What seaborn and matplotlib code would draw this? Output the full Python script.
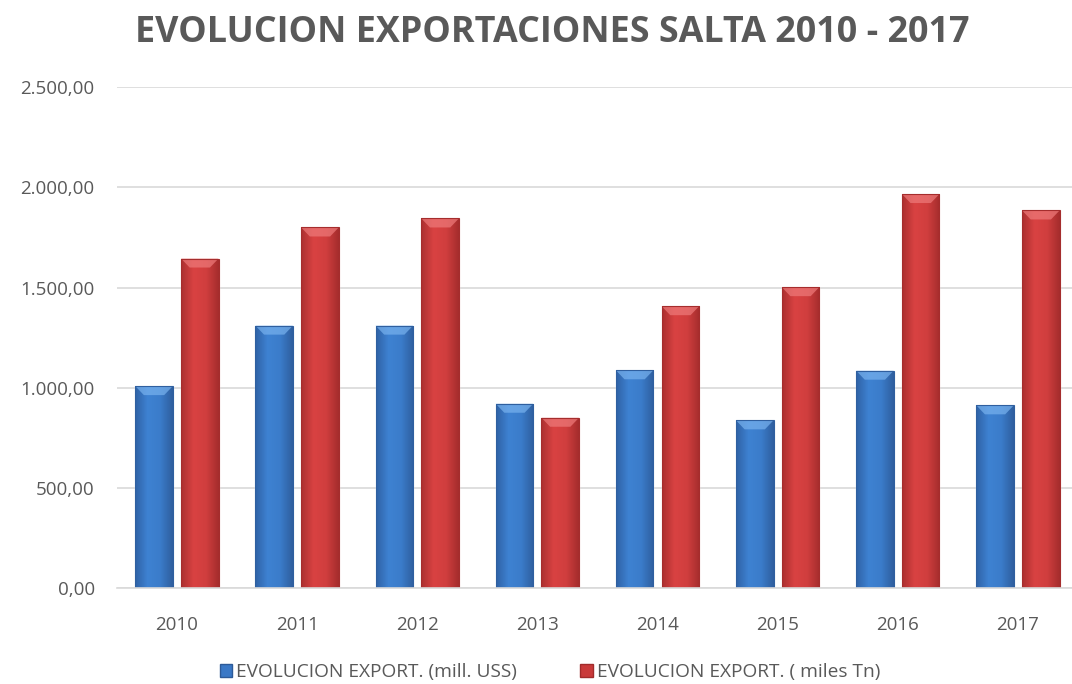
import numpy as np
import pandas as pd
import matplotlib
matplotlib.use("Agg")
import matplotlib.pyplot as plt
import matplotlib.patches as mpatches
from matplotlib.ticker import FuncFormatter, MultipleLocator
from matplotlib.colors import LinearSegmentedColormap
import seaborn as sns

# =========================
# DATA
# =========================

years = ["2010", "2011", "2012", "2013", "2014", "2015", "2016", "2017"]
export_usd = [1008, 1310, 1310, 920, 1087, 837, 1085, 912]        # mill. USS
export_tn = [1645, 1800, 1845, 850, 1407, 1502, 1967, 1885]        # miles Tn

label_usd = "EVOLUCION EXPORT. (mill. USS)"
label_tn = "EVOLUCION EXPORT. ( miles Tn)"
title = "EVOLUCION EXPORTACIONES SALTA 2010 - 2017"

df = pd.DataFrame({
    "year": years * 2,
    "value": export_usd + export_tn,
    "serie": [label_usd] * len(years) + [label_tn] * len(years),
})

# =========================
# STYLE
# =========================

sns.set_style("white")
plt.rcParams["font.family"] = ["Open Sans", "DejaVu Sans"]
TEXT = "#595959"
BLUE = "#3a78c6"
RED = "#c93a3a"

fig = plt.figure(figsize=(10.72, 6.84), dpi=100)
ax = fig.add_axes([0.109, 0.1404, 0.891, 0.732])

sns.barplot(data=df, x="year", y="value", hue="serie",
            palette=[BLUE, RED], width=0.762, gap=0.18,
            saturation=1, ax=ax, legend=False)

# gradient fill + bevel top, clipped to each bar
grads = {
    BLUE: ["#2f62a6", "#3e82d2", "#3b7cca", "#2f5f9f"],
    RED: ["#ab3030", "#d94242", "#d03e3e", "#a52d2d"],
}
tops = {BLUE: "#78b2ee", RED: "#ee7b7b"}
for bar in list(ax.patches):
    fc = matplotlib.colors.to_hex(bar.get_facecolor())
    key = BLUE if fc == BLUE else RED
    x0, y0 = bar.get_x(), bar.get_y()
    w, h = bar.get_width(), bar.get_height()
    cmap = LinearSegmentedColormap.from_list("g", grads[key])
    img = ax.imshow(np.linspace(0, 1, 64).reshape(1, -1), cmap=cmap,
                    extent=[x0, x0 + w, y0, y0 + h], aspect="auto",
                    zorder=bar.get_zorder() + 0.1)
    img.set_clip_path(bar)
    # bevel at the top
    bh = 45
    bevel = mpatches.Polygon([[x0, y0 + h], [x0 + w, y0 + h],
                              [x0 + w * 0.77, y0 + h - bh], [x0 + w * 0.23, y0 + h - bh]],
                             closed=True, facecolor=tops[key], edgecolor="none",
                             alpha=0.7, zorder=bar.get_zorder() + 0.2)
    ax.add_patch(bevel)
    outline = mpatches.Rectangle((x0, y0), w, h, fill=False,
                                 edgecolor=grads[key][3], linewidth=0.8,
                                 zorder=bar.get_zorder() + 0.3)
    ax.add_patch(outline)

ax.set_xlim(-0.5, 7.45)
ax.set_ylim(0, 2500)
ax.yaxis.set_major_locator(MultipleLocator(500))
ax.yaxis.set_major_formatter(FuncFormatter(
    lambda v, p: f"{v:,.2f}".replace(",", "X").replace(".", ",").replace("X", ".")))
ax.grid(axis="y", color="#d9d9d9", linewidth=1.2)
ax.set_axisbelow(True)
for s in ["top", "right", "left"]:
    ax.spines[s].set_visible(False)
ax.spines["bottom"].set_color("#d9d9d9")
ax.spines["bottom"].set_linewidth(1.2)
ax.tick_params(axis="both", length=0, labelsize=13.5, colors=TEXT)
ax.tick_params(axis="x", pad=20)
ax.tick_params(axis="y", pad=16)
ax.set_xlabel("")
ax.set_ylabel("")

fig.text(0.515, 0.952, title, ha="center", va="center",
         fontsize=25.8, fontweight="bold", color=TEXT)

handles = [mpatches.Patch(facecolor=BLUE, edgecolor="#2d5a98", label=label_usd),
           mpatches.Patch(facecolor=RED, edgecolor="#a12b2b", label=label_tn)]
fig.legend(handles=handles, loc="center", bbox_to_anchor=(0.513, 0.017), ncol=2,
           frameon=False, fontsize=13.8, labelcolor=TEXT,
           handlelength=0.65, handleheight=0.65, handletextpad=0.2, columnspacing=3.3)

fig.savefig("out.png", dpi=100)
